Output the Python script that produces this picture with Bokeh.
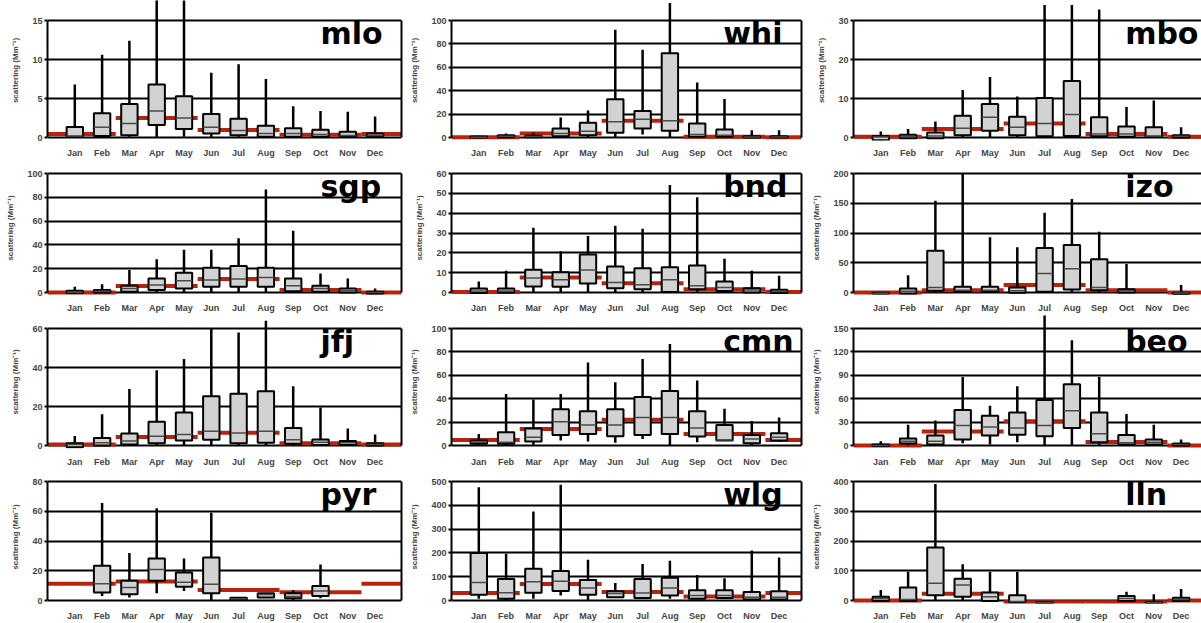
import numpy as np
from bokeh.plotting import figure
from bokeh.models import FixedTicker, LinearAxis, Label, Range1d
from bokeh.layouts import column, row
from bokeh.embed import file_html
from bokeh.resources import INLINE

MONTHS = ["Jan", "Feb", "Mar", "Apr", "May", "Jun", "Jul", "Aug", "Sep", "Oct", "Nov", "Dec"]
STATIONS = ["mlo", "whi", "mbo", "sgp", "bnd", "izo", "jfj", "cmn", "beo", "pyr", "wlg", "lln"]
Y_LABEL = "scattering (Mm\u207b\u00b9)"
N = None

# ---- y tick values per station ----
MLO_TICKS = [0, 5, 10, 15]
WHI_TICKS = [0, 20, 40, 60, 80, 100]
MBO_TICKS = [0, 10, 20, 30]
SGP_TICKS = [0, 20, 40, 60, 80, 100]
BND_TICKS = [0, 10, 20, 30, 40, 50, 60]
IZO_TICKS = [0, 50, 100, 150, 200]
JFJ_TICKS = [0, 20, 40, 60]
CMN_TICKS = [0, 20, 40, 60, 80, 100]
BEO_TICKS = [0, 30, 60, 90, 120, 150]
PYR_TICKS = [0, 20, 40, 60, 80]
WLG_TICKS = [0, 100, 200, 300, 400, 500]
LLN_TICKS = [0, 100, 200, 300, 400]

# ---- monthly box statistics: whisker low, q1, median, q3, whisker high ----
MLO_LO = [0, 0.1, 0.1, 0, 0.1, 0, 0.1, 0, 0, 0, 0, 0]
MLO_Q1 = [0.1, 0.2, 0.3, 1.6, 1.1, 0.5, 0.3, 0.1, 0.1, 0.1, 0.08, 0.05]
MLO_MED = [0.2, 1.3, 1.8, 3.4, 2.5, 1.3, 0.9, 0.5, 0.5, 0.4, 0.25, 0.25]
MLO_Q3 = [1.35, 3.1, 4.3, 6.8, 5.3, 3.0, 2.4, 1.5, 1.2, 1.0, 0.75, 0.5]
MLO_HI = [6.8, 10.6, 12.4, 18, 18, 8.3, 9.4, 7.5, 4.0, 3.4, 3.3, 2.7]
MLO_SEAS = [0.45, 2.5, 0.95, 0.35]  # DJF, MAM, JJA, SON

WHI_LO = [0, 0, 0, 0, 0, 0, 2.6, 0, 0, 0, 0, 0]
WHI_Q1 = [0, 0.3, 0.3, 1.1, 2, 4, 7.7, 5.7, 0.6, 0.6, 0, 0]
WHI_MED = [0.3, 1, 0.8, 3.4, 5.4, 13.4, 15.7, 14.3, 2.6, 2, 0.4, 0.4]
WHI_Q3 = [0.8, 2, 1.5, 7.7, 12.6, 32.6, 22.6, 72, 12, 6.9, 1, 1]
WHI_HI = [1.5, 3.4, 4.3, 17, 23, 92, 75, 115, 47, 33, 6.3, 6.3]
WHI_SEAS = [0.3, 3.4, 14.3, 0.6]

MBO_LO = [-0.8, -0.3, -0.3, 0, 0, 0, 0, 0, 0, 0, 0, 0]
MBO_Q1 = [-0.7, -0.2, -0.2, 0.6, 1.7, 0.6, 0.3, 0.4, 0.3, 0.2, 0.2, 0]
MBO_MED = [0.1, 0.25, 0.4, 2.4, 5.2, 2.6, 3.6, 5.9, 0.9, 0.9, 0.4, 0.3]
MBO_Q3 = [0.4, 0.7, 1.3, 5.6, 8.6, 5.3, 10.1, 14.5, 5.2, 2.8, 2.6, 0.6]
MBO_HI = [1.55, 2.2, 4.1, 12.2, 15.5, 10.5, 34, 34, 32.8, 7.8, 9.5, 2.6]
MBO_SEAS = [0.2, 2.2, 3.6, 0.9]

SGP_LO = [-0.8, 0, 0, 0, 0, 0, 0, 0, 0, 0, 0, -0.8]
SGP_Q1 = [-0.5, 0, 0.6, 2, 3.4, 4.8, 4.8, 4.8, 1.1, 0.6, 0, -0.8]
SGP_MED = [0.3, 1.1, 3.4, 6.2, 9.9, 10.4, 11.3, 12.7, 5.6, 3.4, 1.4, 0]
SGP_Q3 = [1.4, 2, 5.6, 11.8, 16.6, 20.8, 22.3, 20.8, 11.8, 5.6, 3.4, 0.6]
SGP_HI = [4.8, 7, 19, 28, 36, 36, 45.6, 86.5, 51.8, 16, 11.8, 3.4]
SGP_SEAS = [0, 5.4, 11.3, 2]

BND_LO = [-0.3, 0, 0, 0, 0, 0, 0, 0, 0, 0, 0, -0.3]
BND_Q1 = [-0.3, 0, 3, 2.9, 4.6, 2.2, 1.7, 0.3, 1.7, 0.8, 0, -0.3]
BND_MED = [0.8, 0.8, 7.3, 6.4, 11.4, 5.1, 3.9, 6.4, 3.4, 2.5, 1.2, 0.5]
BND_Q3 = [2, 2, 11.5, 10.2, 19.2, 13.1, 12.2, 12.7, 13.6, 5.6, 2.2, 1.4]
BND_HI = [5.6, 11, 32.7, 20.8, 28.5, 33.6, 32.2, 54.2, 48, 17, 11, 8.5]
BND_SEAS = [0.3, 7.6, 4.7, 1.7]

IZO_LO = [-2, -2, 0, 0, 0, -1, 0, 0, 0, 0, N, -2.5]
IZO_Q1 = [-1.8, -1.7, 2.8, 1.1, 1.1, -0.5, 1.1, 5, 3.9, 0, N, -2]
IZO_MED = [-1.2, 2.2, 8.4, 3.9, 3.9, 2.8, 32, 40, 8.4, 2.8, N, -1]
IZO_Q3 = [-0.5, 6.7, 70, 9.6, 9.6, 8.4, 75, 80, 56, 5.6, N, -0.5]
IZO_HI = [0.5, 29, 154, 200, 93, 76, 134, 157, 102, 48, N, 12.4]
IZO_SEAS = [0, 3.9, 12.4, 3.9]

JFJ_LO = [-0.9, 0, 0, 0, 0, 0, 0, 0, 0, 0, 0, 0]
JFJ_Q1 = [-0.9, 0, 0.5, 1.2, 2.6, 3, 1.2, 1.4, 0.9, 0.3, 0.3, 0]
JFJ_MED = [0.5, 1.4, 2.3, 4.7, 5.7, 7.3, 6.4, 7.3, 3, 1.7, 1.4, 0.5]
JFJ_Q3 = [1.2, 3.8, 6.1, 12.2, 16.9, 25.2, 26.6, 27.8, 9, 3.1, 2.3, 1.2]
JFJ_HI = [4.9, 16, 29, 38.6, 44.3, 59.7, 58, 64, 30.4, 19.5, 8.7, 5.7]
JFJ_SEAS = [0.5, 4.3, 6.6, 1.2]

CMN_LO = [0, 0, 0, 4.2, 3.4, 2.3, 5.6, 0, 2.8, 4, 0, 3]
CMN_Q1 = [1.4, 1.4, 3.4, 9, 9.9, 7.9, 9, 9.9, 7.6, 4.2, 2, 4.2]
CMN_MED = [2.8, 2.8, 7, 20.3, 17.5, 17.5, 24, 24, 15, 4.8, 5.6, 7]
CMN_Q3 = [4.2, 11.3, 14.6, 31, 29.3, 31, 41.4, 46.5, 29.3, 17.5, 9, 10.4]
CMN_HI = [9.9, 44, 39.4, 44, 71, 54, 74, 86.8, 55.5, 31.5, 21, 24]
CMN_SEAS = [4.8, 14, 22, 9.9]

BEO_LO = [-1, 0, 0, 3, 1.3, 4.2, 0, 0, 0, 0, 0, 0]
BEO_Q1 = [-0.8, 2.5, 1.3, 7.6, 12.7, 13.9, 11.8, 22.4, 4.2, 1.3, 1.3, 0]
BEO_MED = [0, 5.5, 5.5, 25.7, 23.6, 22.4, 25.7, 44.7, 15.2, 3.4, 4.2, 1.3]
BEO_Q3 = [1.3, 8.9, 12.7, 45.6, 38, 42.2, 58.2, 78.5, 42.2, 13.5, 7.6, 2.5]
BEO_HI = [5.5, 26.6, 32, 87.8, 51, 76, 170, 135, 87.8, 40.5, 26.6, 7.6]
BEO_SEAS = [0, 18, 31, 4.6]

PYR_LO = [N, 3.1, 2, 4.9, 6.4, 0, 0.8, 2, 0, 1.5, N, N]
PYR_Q1 = [N, 5.3, 4.2, 13.3, 9.3, 4.9, 0.8, 2, 1.5, 3.1, N, N]
PYR_MED = [N, 11.3, 8.7, 20.9, 12.2, 10.9, 1.2, 4, 2.7, 6.4, N, N]
PYR_Q3 = [N, 23.3, 13.3, 28.2, 18.9, 28.9, 1.8, 4.9, 4.9, 9.8, N, N]
PYR_HI = [N, 65.5, 32, 62, 28.2, 59, 1.8, 4.9, 7.1, 24.2, N, N]
PYR_SEAS = [11.2, 12.7, 7.1, 5.6]

WLG_LO = [7, 0, 7, 21, 0, 14, 10, 7, 7, 10, 4, 4]
WLG_Q1 = [24, 7, 33, 40, 24, 14, 10, 21, 7, 10, 4, 4]
WLG_MED = [76, 33, 79, 81, 53, 29, 31, 53, 21, 21, 14, 14]
WLG_Q3 = [200, 90, 133, 124, 86, 39, 90, 96, 43, 43, 36, 39]
WLG_HI = [476, 196, 374, 486, 171, 74, 153, 167, 107, 93, 210, 181]
WLG_SEAS = [31, 69, 36, 17]

LLN_LO = [-2, -2, 0, 0, -2, -6, -8, N, N, -2, -8, -2]
LLN_Q1 = [-2, -2, 17.5, 13, -2, -6, -8, N, N, -2, -8, -2]
LLN_MED = [6, 3.5, 58, 52.5, 13, -3, -7, N, N, 7, -7, 3.5]
LLN_Q3 = [13, 44, 178, 73.5, 27, 17.5, -5, N, N, 15, -5, 9.3]
LLN_HI = [35, 97, 392, 122, 97, 97, -5, N, N, 29, 21, 38.5]
LLN_SEAS = [0, 23, -6, -6]

DATA = {
    "mlo": (MLO_TICKS, MLO_LO, MLO_Q1, MLO_MED, MLO_Q3, MLO_HI, MLO_SEAS),
    "whi": (WHI_TICKS, WHI_LO, WHI_Q1, WHI_MED, WHI_Q3, WHI_HI, WHI_SEAS),
    "mbo": (MBO_TICKS, MBO_LO, MBO_Q1, MBO_MED, MBO_Q3, MBO_HI, MBO_SEAS),
    "sgp": (SGP_TICKS, SGP_LO, SGP_Q1, SGP_MED, SGP_Q3, SGP_HI, SGP_SEAS),
    "bnd": (BND_TICKS, BND_LO, BND_Q1, BND_MED, BND_Q3, BND_HI, BND_SEAS),
    "izo": (IZO_TICKS, IZO_LO, IZO_Q1, IZO_MED, IZO_Q3, IZO_HI, IZO_SEAS),
    "jfj": (JFJ_TICKS, JFJ_LO, JFJ_Q1, JFJ_MED, JFJ_Q3, JFJ_HI, JFJ_SEAS),
    "cmn": (CMN_TICKS, CMN_LO, CMN_Q1, CMN_MED, CMN_Q3, CMN_HI, CMN_SEAS),
    "beo": (BEO_TICKS, BEO_LO, BEO_Q1, BEO_MED, BEO_Q3, BEO_HI, BEO_SEAS),
    "pyr": (PYR_TICKS, PYR_LO, PYR_Q1, PYR_MED, PYR_Q3, PYR_HI, PYR_SEAS),
    "wlg": (WLG_TICKS, WLG_LO, WLG_Q1, WLG_MED, WLG_Q3, WLG_HI, WLG_SEAS),
    "lln": (LLN_TICKS, LLN_LO, LLN_Q1, LLN_MED, LLN_Q3, LLN_HI, LLN_SEAS),
}

# ---- layout / style ----
PX_PER_MONTH = 27.3
BOX_W = 0.6
RED = "#b8230d"
BOX_FILL = "#d2d2d2"
TICK_FONT = "Liberation Sans"
COLS = [dict(W=404, bl=47, br=3, right=True, title_x=10.0),
        dict(W=400, bl=47, br=3, right=True, title_x=9.95),
        dict(W=397, bl=49, br=0, right=False, title_x=9.95)]
ROWS = [dict(H=160, d_top=20, d_zero=137, hf=140, standoff=7),
        dict(H=155, d_top=13, d_zero=132, hf=135, standoff=7),
        dict(H=155, d_top=13, d_zero=130, hf=133, standoff=8),
        dict(H=153, d_top=11, d_zero=130, hf=133, standoff=7)]


def arr(v):
    return np.array([np.nan if a is None else a for a in v], dtype=float)


def panel(name, ci, ri):
    ticks, lo, q1, med, q3, hi, seas = DATA[name]
    c, r = COLS[ci], ROWS[ri]
    top_val = ticks[-1]
    upp = top_val / (r["d_zero"] - r["d_top"])
    y_end = top_val + r["d_top"] * upp
    y_start = -(r["hf"] - r["d_zero"]) * upp
    fw = c["W"] - c["bl"] - c["br"]
    x_end = fw / PX_PER_MONTH

    p = figure(width=c["W"], height=r["H"], x_range=Range1d(0, x_end),
               y_range=Range1d(y_start, y_end), output_backend="svg",
               toolbar_location=None, min_border_left=c["bl"], min_border_right=c["br"],
               min_border_top=0, min_border_bottom=r["H"] - r["hf"],
               outline_line_color=None, background_fill_color="white",
               border_fill_color="white")

    yt = FixedTicker(ticks=ticks)
    p.yaxis.ticker = yt
    p.ygrid.ticker = yt
    p.ygrid.grid_line_color = "black"
    p.ygrid.grid_line_width = 2
    p.xgrid.visible = False
    p.yaxis.bounds = (0, top_val)
    p.yaxis.axis_line_width = 2
    p.yaxis.major_tick_out = 3
    p.yaxis.major_tick_in = 0
    p.yaxis.major_tick_line_width = 2
    p.yaxis.minor_tick_line_color = None
    p.yaxis.major_label_standoff = 2
    p.yaxis.major_label_text_font = TICK_FONT
    p.yaxis.major_label_text_font_style = "bold"
    p.yaxis.major_label_text_font_size = "9px"
    p.yaxis.axis_label = Y_LABEL
    p.yaxis.axis_label_text_font = TICK_FONT
    p.yaxis.axis_label_text_font_style = "bold"
    p.yaxis.axis_label_text_font_size = "8px"
    p.yaxis.axis_label_standoff = 9

    p.xaxis.ticker = FixedTicker(ticks=list(range(1, 13)))
    p.xaxis.major_label_overrides = {i + 1: m for i, m in enumerate(MONTHS)}
    p.xaxis.axis_line_color = None
    p.xaxis.major_tick_line_color = None
    p.xaxis.minor_tick_line_color = None
    p.xaxis.major_tick_out = 0
    p.xaxis.major_tick_in = 0
    p.xaxis.major_label_standoff = r["standoff"]
    p.xaxis.major_label_text_font = TICK_FONT
    p.xaxis.major_label_text_font_style = "bold"
    p.xaxis.major_label_text_font_size = "9px"

    if c["right"]:
        ax = LinearAxis(ticker=FixedTicker(ticks=[]), bounds=(0, top_val),
                        axis_line_width=2, major_tick_out=0, major_tick_in=0,
                        minor_tick_out=0, minor_tick_in=0,
                        major_tick_line_color=None, minor_tick_line_color=None,
                        major_label_standoff=0, major_label_text_font_size="0px")
        p.add_layout(ax, "right")

    # seasonal (red) levels: DJF, MAM, JJA, SON, then DJF again at the end
    djf, mam, jja, son = seas
    sx0 = [0, 2.5, 5.5, 8.5, 11.5]
    sx1 = [2.5, 5.5, 8.5, 11.5, x_end]
    sy = [djf, mam, jja, son, djf]
    p.segment(x0=sx0, y0=sy, x1=sx1, y1=sy, line_color=RED, line_width=4)

    x = np.arange(1, 13, dtype=float)
    lo, q1, med, q3, hi = arr(lo), arr(q1), arr(med), arr(q3), arr(hi)
    ok = ~np.isnan(q1)
    x, lo, q1, med, q3, hi = x[ok], lo[ok], q1[ok], med[ok], q3[ok], hi[ok]

    p.segment(x0=x, y0=lo, x1=x, y1=hi, line_color="black", line_width=2.5)
    p.vbar(x=x, width=BOX_W, bottom=q1, top=q3, fill_color=BOX_FILL,
           line_color="black", line_width=2)
    p.segment(x0=x - BOX_W / 2, y0=med, x1=x + BOX_W / 2, y1=med,
              line_color="#4a4a4a", line_width=1.5)

    p.add_layout(Label(x=c["title_x"], y=top_val, y_offset=-13, text=name,
                       text_font="DejaVu Sans", text_font_size="30px",
                       text_font_style="bold",
                       text_color="black", text_baseline="alphabetic",
                       text_align="left"))
    return p


rows = []
for ri in range(4):
    rows.append(row(*[panel(STATIONS[ri * 3 + ci], ci, ri) for ci in range(3)]))
layout = column(*rows)

open("out.html", "w").write(file_html(layout, INLINE))
